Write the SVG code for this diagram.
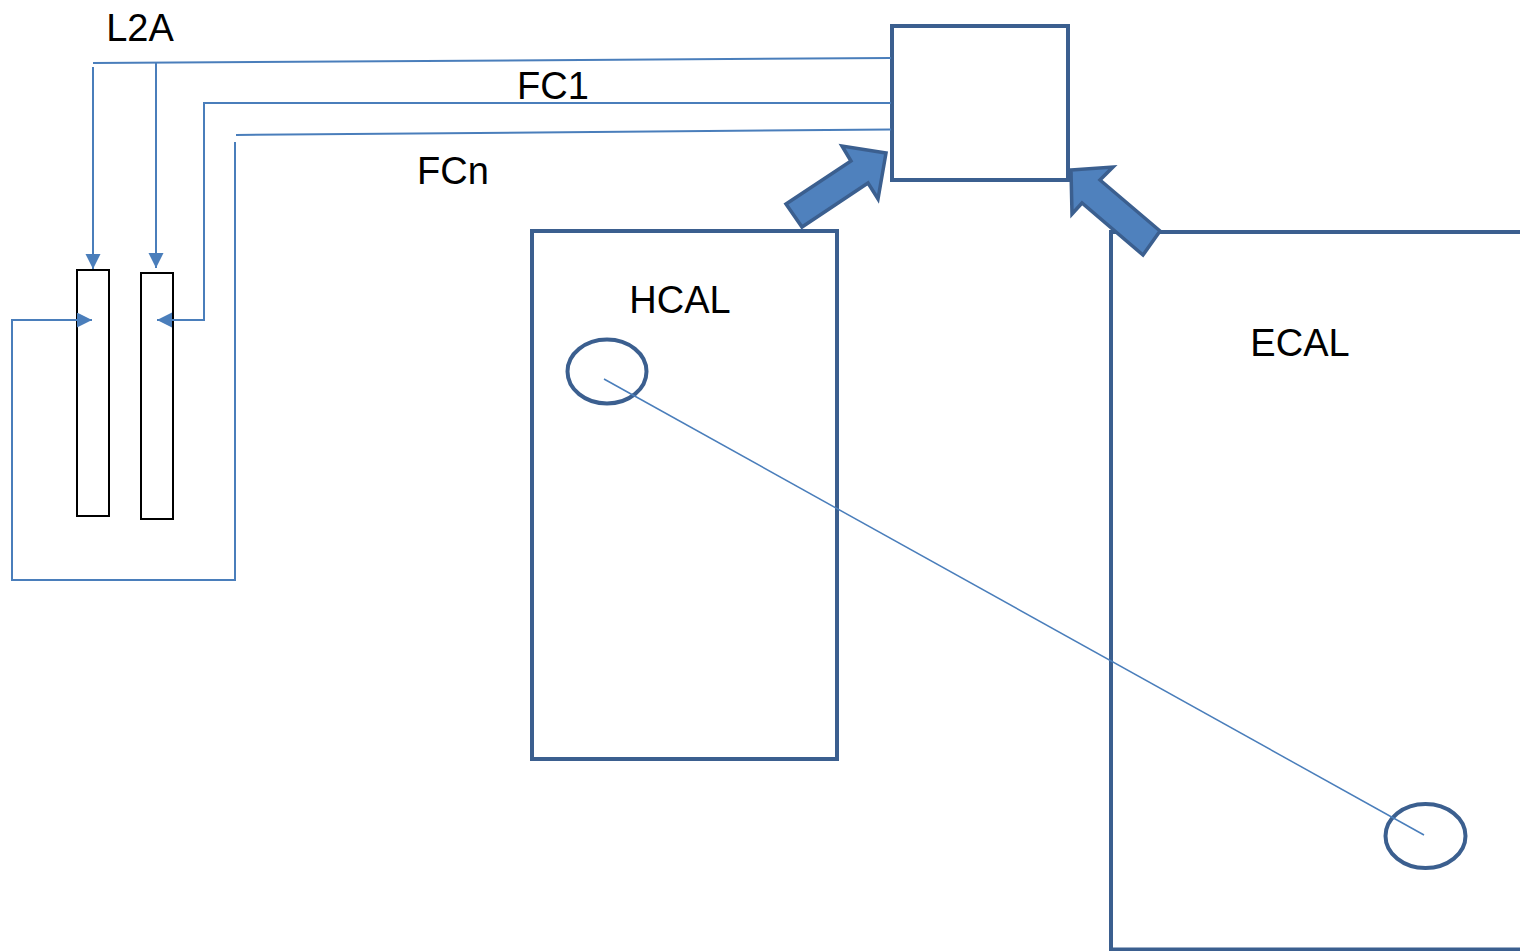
<svg xmlns="http://www.w3.org/2000/svg" width="1520" height="951" viewBox="0 0 1520 951">
<style>
.wire{fill:none;stroke:#4A7EBB;stroke-width:2}
.box{fill:#fff;stroke:#3B5F8F;stroke-width:4}
.slab{fill:#fff;stroke:#000;stroke-width:2}
.blk{fill:#4F81BD;stroke:#3B5F8F;stroke-width:3.5;stroke-linejoin:miter}
.ring{fill:none;stroke:#3B5F8F;stroke-width:4}
.lbl{font-family:"Liberation Sans",Arial,sans-serif;font-size:38px;fill:#000;text-anchor:middle}
</style>
<defs>
<marker id="ah" markerUnits="userSpaceOnUse" markerWidth="16" markerHeight="16" refX="15" refY="7.5" orient="auto" viewBox="0 0 16 16">
<path d="M0,0 L15,7.5 L0,15 z" fill="#4A7EBB"/>
</marker>
</defs>
<rect width="1520" height="951" fill="#fff"/>
<g id="ecal">
<path class="box" d="M1530,232 H1111 V949.5 H1530"/>
<text class="lbl" x="1300" y="356">ECAL</text>
</g>
<g id="hcal">
<rect class="box" x="532" y="231" width="305" height="528"/>
<text class="lbl" x="680" y="313">HCAL</text>
</g>
<g id="central">
<rect class="box" x="892" y="26" width="176" height="154"/>
</g>
<g id="slab1"><rect class="slab" x="77" y="270" width="32" height="246"/></g>
<g id="slab2"><rect class="slab" x="141" y="273" width="32" height="246"/></g>
<g id="hcal-circle"><ellipse class="ring" cx="607" cy="371.5" rx="39.5" ry="32"/></g>
<g id="ecal-circle"><ellipse class="ring" cx="1425.5" cy="836" rx="40" ry="32"/></g>
<g id="labels">
<text class="lbl" x="140" y="41">L2A</text>
<text class="lbl" x="553" y="99">FC1</text>
<text class="lbl" x="453" y="184">FCn</text>
</g>
<g id="connectors">
<path class="wire" d="M93,63 L891,58"/>
<path class="wire" d="M93,67 V269" marker-end="url(#ah)"/>
<path class="wire" d="M156,62 V268" marker-end="url(#ah)"/>
<path class="wire" d="M891,103 H204 V320 H157" marker-end="url(#ah)"/>
<path class="wire" d="M236,135 L891,129.5"/>
<path class="wire" d="M235,142 V580 H12 V320 H92" marker-end="url(#ah)"/>
<path d="M604,379 L1424,835" fill="none" stroke="#4A7EBB" stroke-width="1.5"/>
<polygon class="blk" points="786,204 802,227 868,183 878,199 886,153 842,146 851,161"/>
<polygon class="blk" points="1071,170 1113,167 1100,180 1160,231 1143,255 1082,203 1072,214"/>
</g>
</svg>
